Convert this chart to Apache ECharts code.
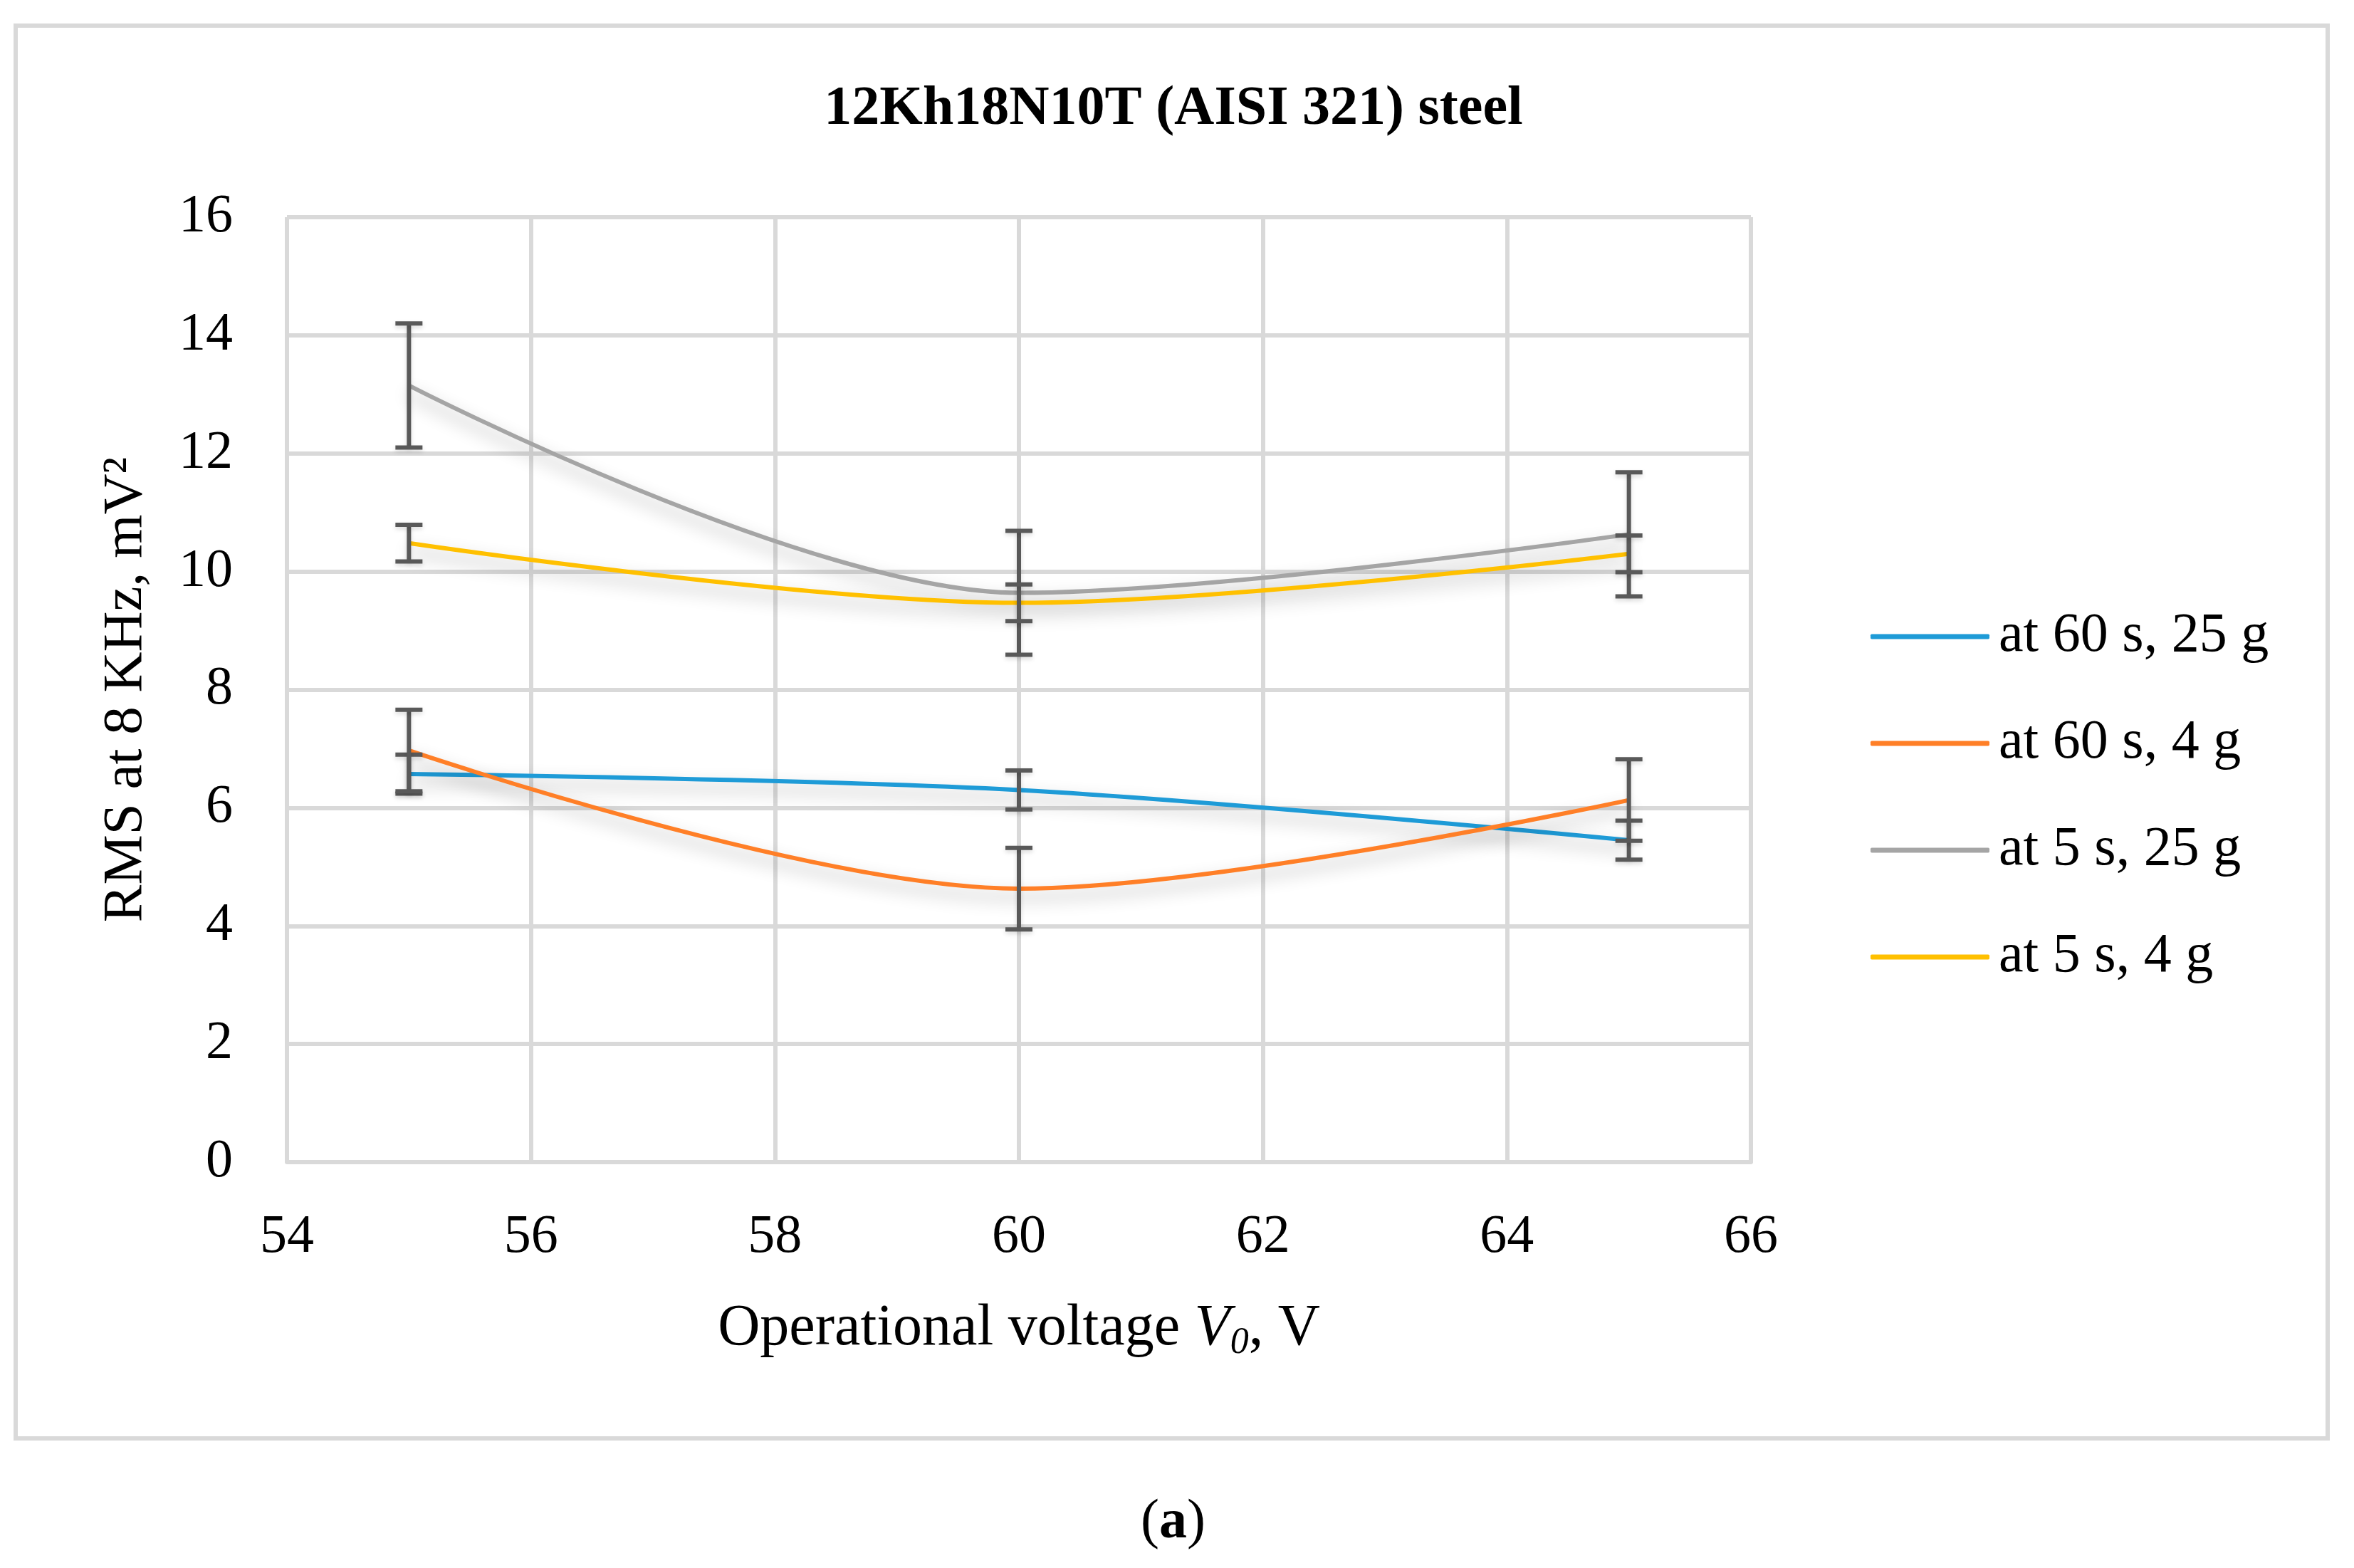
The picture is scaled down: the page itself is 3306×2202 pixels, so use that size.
<!DOCTYPE html>
<html><head><meta charset="utf-8">
<script src="https://cdn.jsdelivr.net/npm/echarts@6/dist/echarts.min.js"></script>
<style>html,body{margin:0;padding:0;background:#fff}#c{width:3306px;height:2202px}</style>
</head><body><div id="c"></div>
<script>
// ---- data ----
const voltages = [55, 60, 65];
const seriesNames = ['at 60 s, 25 g', 'at 60 s, 4 g', 'at 5 s, 25 g', 'at 5 s, 4 g'];
const rms60s25g = [6.57, 6.30, 5.45];
const rms60s4g  = [6.97, 4.63, 6.13];
const rms5s25g  = [13.15, 9.64, 10.63];
const rms5s4g   = [10.48, 9.47, 10.30];
const err60s25g = [0.33, 0.33, 0.33];
const err60s4g  = [0.69, 0.69, 0.69];
const err5s25g  = [1.05, 1.05, 1.05];
const err5s4g   = [0.31, 0.31, 0.31];
const xMin = 54, xMax = 66, xStep = 2;
const yMin = 0, yMax = 16, yStep = 2;
const titleText = '12Kh18N10T (AISI 321) steel';
const colors = ['#1E9BD7', '#FF7F27', '#A5A5A5', '#FFC000'];

const FONT = 'Liberation Serif';
const allValues = [rms60s25g, rms60s4g, rms5s25g, rms5s4g];
const allErrors = [err60s25g, err60s4g, err5s25g, err5s4g];

const lineSeries = seriesNames.map((name, i) => ({
  name: name,
  type: 'line',
  data: voltages.map((v, k) => [v, allValues[i][k]]),
  smooth: 0.33,
  showSymbol: false,
  symbol: 'none',
  color: colors[i],
  z: 3,
  lineStyle: {
    width: 6, color: colors[i],
    shadowColor: 'rgba(0,0,0,0.32)', shadowBlur: 24, shadowOffsetY: 12
  }
}));

function renderErr(params, api) {
  const x = api.value(0), lo = api.value(1), hi = api.value(2);
  const pLo = api.coord([x, lo]), pHi = api.coord([x, hi]);
  const hw = 19;
  const st = { stroke: '#595959', lineWidth: 6, fill: null,
               shadowColor: 'rgba(0,0,0,0.15)', shadowBlur: 6, shadowOffsetY: 3 };
  return { type: 'group', children: [
    { type: 'line', shape: { x1: pLo[0], y1: pLo[1], x2: pHi[0], y2: pHi[1] }, style: st },
    { type: 'line', shape: { x1: pLo[0] - hw, y1: pLo[1], x2: pLo[0] + hw, y2: pLo[1] }, style: st },
    { type: 'line', shape: { x1: pHi[0] - hw, y1: pHi[1], x2: pHi[0] + hw, y2: pHi[1] }, style: st }
  ]};
}

const errSeries = seriesNames.map((name, i) => ({
  name: name + ' error',
  type: 'custom',
  renderItem: renderErr,
  encode: { x: 0, y: [1, 2] },
  data: voltages.map((v, k) => [v, allValues[i][k] - allErrors[i][k], allValues[i][k] + allErrors[i][k]]),
  z: 4,
  silent: true
}));

const chart = echarts.init(document.getElementById('c'), null, { renderer: 'canvas' });
chart.setOption({
  animation: false,
  backgroundColor: '#fff',
  title: {
    text: titleText,
    left: 1643, top: 110, textAlign: 'center',
    textStyle: { fontFamily: FONT, fontSize: 78, fontWeight: 'bold', color: '#000' }
  },
  legend: {
    data: seriesNames,
    orient: 'vertical',
    left: 2622, top: 849,
    icon: 'roundRect',
    itemWidth: 167, itemHeight: 7,
    itemGap: 70,
    textStyle: { fontFamily: FONT, fontSize: 78, lineHeight: 80, color: '#000', padding: [0, 0, 0, 8] }
  },
  grid: { left: 403, right: 847, top: 305, bottom: 570, containLabel: false },
  xAxis: {
    type: 'value', min: xMin, max: xMax, interval: xStep,
    axisLine: { show: true, lineStyle: { color: '#D9D9D9', width: 6 } },
    axisTick: { show: false },
    splitLine: { show: true, lineStyle: { color: '#D9D9D9', width: 6 } },
    axisLabel: { margin: 68, fontFamily: FONT, fontSize: 76, color: '#000' },
    name: '{n|Operational voltage }{i|V}{s|0}{n|, V}',
    nameLocation: 'middle', nameGap: 188,
    nameTextStyle: {
      fontFamily: FONT, color: '#000',
      rich: {
        n: { fontFamily: FONT, fontSize: 82, lineHeight: 92, color: '#000' },
        i: { fontFamily: FONT, fontSize: 82, lineHeight: 92, fontStyle: 'italic', color: '#000' },
        s: { fontFamily: FONT, fontSize: 52, lineHeight: 60, fontStyle: 'italic', color: '#000', verticalAlign: 'bottom' }
      }
    }
  },
  yAxis: {
    type: 'value', min: yMin, max: yMax, interval: yStep,
    axisLine: { show: false },
    axisTick: { show: false },
    splitLine: { show: true, lineStyle: { color: '#D9D9D9', width: 6 } },
    axisLabel: { margin: 76, fontFamily: FONT, fontSize: 76, color: '#000' },
    name: 'RMS at 8 KHz, mV²',
    nameLocation: 'middle', nameGap: 186,
    nameTextStyle: { fontFamily: FONT, fontSize: 79, color: '#000' }
  },
  graphic: [
    { type: 'rect', left: 19, top: 33, z: -10, silent: true,
      shape: { x: 0, y: 0, width: 3247, height: 1984 },
      style: { fill: null, stroke: '#D9D9D9', lineWidth: 6 } },
    { type: 'text', left: 1602, top: 2100, silent: true,
      style: { text: '{p|(}{b|a}{p|)}', rich: {
        p: { fontFamily: FONT, fontSize: 78, fill: '#000' },
        b: { fontFamily: FONT, fontSize: 78, fontWeight: 'bold', fill: '#000' }
      } } }
  ],
  series: lineSeries.concat(errSeries)
});
</script>
</body></html>
